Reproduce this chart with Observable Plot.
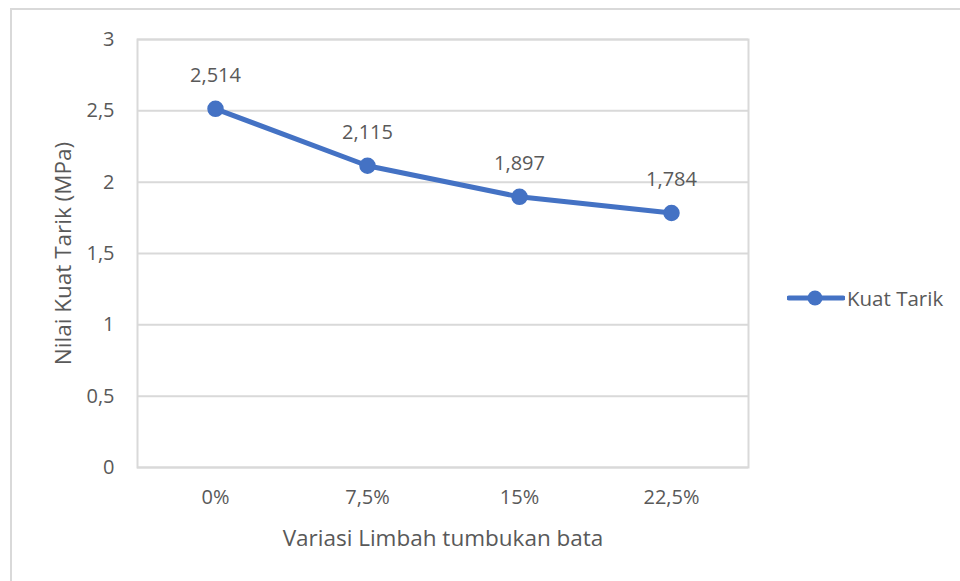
<!DOCTYPE html>
<html>
<head>
<meta charset="utf-8">
<script src="https://cdn.jsdelivr.net/npm/d3@7"></script>
<script src="https://cdn.jsdelivr.net/npm/@observablehq/plot@0.6"></script>
<style>
  html, body { margin: 0; padding: 0; background: #fff; overflow: hidden; }
  #wrap { position: relative; width: 960px; height: 581px; font-family: "Open Sans", sans-serif; }
  #outer { position: absolute; left: 10px; top: 8px; width: 980px; height: 620px; border: 2px solid #d9d9d9; box-sizing: border-box; pointer-events: none; }
  #legend { position: absolute; left: 787px; top: 284px; display: flex; align-items: center; font-size: 20.5px; color: #595959; }
  #legend svg { display: block; }
  #chart g[aria-label="y-axis label"] text,
  #chart g[aria-label="x-axis label"] text { font-size: 22.5px; }
</style>
</head>
<body>
<div id="wrap">
  <div id="chart"></div>
  <div id="outer"></div>
  <div id="legend"></div>
</div>
<script>
const categories = ["0%", "7,5%", "15%", "22,5%"];
const kuatTarik = [2.514, 2.115, 1.897, 1.784];
const yTicks = [0, 0.5, 1, 1.5, 2, 2.5, 3];
const seriesName = "Kuat Tarik";
const xTitle = "Variasi Limbah tumbukan bata";
const yTitle = "Nilai Kuat Tarik (MPa)";

const data = categories.map((c, i) => ({cat: c, value: kuatTarik[i]}));
const fmt = v => String(v).replace(".", ",");
const textColor = "#595959";
const lineColor = "#4472C4";
const gridColor = "#d9d9d9";

const chart = Plot.plot({
  width: 960,
  height: 581,
  marginLeft: 137,
  marginRight: 212,
  marginTop: 39,
  marginBottom: 114,
  style: {fontFamily: "Open Sans, sans-serif", fontSize: "20px", color: textColor, background: "transparent"},
  x: {type: "point", domain: categories, padding: 0.5},
  y: {domain: [0, 3]},
  marks: [
    Plot.ruleY(yTicks, {stroke: gridColor, strokeWidth: 2}),
    Plot.frame({stroke: gridColor, strokeWidth: 2}),
    Plot.axisY({ticks: yTicks, tickFormat: fmt, tickSize: 0, tickPadding: 23, fill: textColor, fontSize: 20,
      label: yTitle, labelAnchor: "center", labelOffset: 82, labelArrow: "none"}),
    Plot.axisX({tickSize: 0, tickPadding: 30, lineAnchor: "middle", fill: textColor, fontSize: 20,
      label: xTitle, labelAnchor: "center", labelOffset: 78, labelArrow: "none"}),
    Plot.line(data, {x: "cat", y: "value", stroke: lineColor, strokeWidth: 5, strokeLinecap: "round", strokeLinejoin: "round"}),
    Plot.dot(data, {x: "cat", y: "value", r: 7.5, fill: lineColor, stroke: lineColor}),
    Plot.text(data, {x: "cat", y: "value", text: d => fmt(d.value), dy: -33, fill: textColor, fontSize: 20})
  ]
});
document.getElementById("chart").appendChild(chart);

// legend
const legend = document.getElementById("legend");
legend.innerHTML = `<svg width="58" height="26"><line x1="2" y1="13" x2="56" y2="13" stroke="${lineColor}" stroke-width="5" stroke-linecap="round"/><circle cx="28" cy="13" r="7.5" fill="${lineColor}"/></svg><span style="margin-left:2px">${seriesName}</span>`;
</script>
</body>
</html>
